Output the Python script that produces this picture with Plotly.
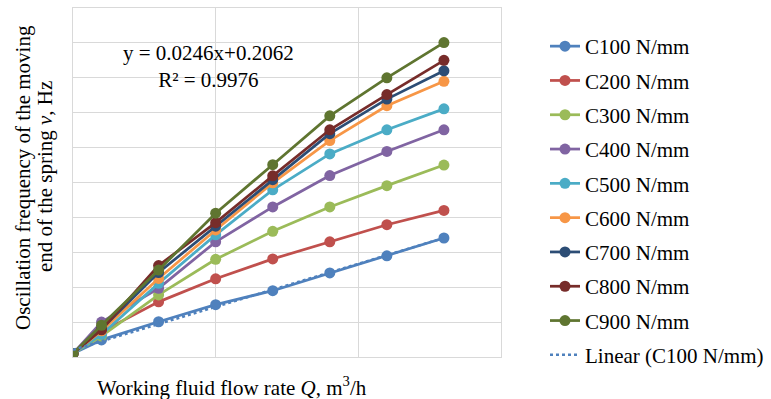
import numpy as np
import plotly.graph_objects as go

# Data (axis units arbitrary, no tick labels shown)
flow_rate = [0, 1, 3, 5, 7, 9, 11, 13]
series_names = ["C100 N/mm", "C200 N/mm", "C300 N/mm", "C400 N/mm", "C500 N/mm",
                "C600 N/mm", "C700 N/mm", "C800 N/mm", "C900 N/mm"]
c100 = [0.1, 0.49, 1.01, 1.50, 1.90, 2.41, 2.90, 3.41]
c200 = [0.1, 0.72, 1.58, 2.24, 2.81, 3.30, 3.79, 4.20]
c300 = [0.1, 0.60, 1.78, 2.80, 3.60, 4.30, 4.91, 5.50]
c400 = [0.1, 1.00, 1.97, 3.30, 4.30, 5.20, 5.89, 6.51]
c500 = [0.1, 0.65, 2.11, 3.50, 4.79, 5.82, 6.51, 7.11]
c600 = [0.1, 0.75, 2.25, 3.64, 4.99, 6.20, 7.20, 7.90]
c700 = [0.1, 0.80, 2.42, 3.75, 5.08, 6.40, 7.39, 8.20]
c800 = [0.1, 0.78, 2.62, 3.85, 5.19, 6.51, 7.52, 8.50]
c900 = [0.1, 0.91, 2.49, 4.12, 5.51, 6.91, 8.00, 9.01]
series_values = [c100, c200, c300, c400, c500, c600, c700, c800, c900]
colors = ["#4F81BD", "#C0504D", "#9BBB59", "#8064A2", "#4BACC6",
          "#F79646", "#2C4D75", "#772C2A", "#5F7530"]

fig = go.Figure()
for i, (name, vals, col) in enumerate(zip(series_names, series_values, colors)):
    fig.add_trace(go.Scatter(
        x=flow_rate, y=vals, name=name, mode="lines+markers",
        line=dict(color=col, width=2.75),
        marker=dict(color=col, size=11),
        legendgroup=f"g{i}",
    ))

# Linear trendline of C100
slope, intercept = np.polyfit(flow_rate, c100, 1)
tx = np.array([flow_rate[0], flow_rate[-1]])
fig.add_trace(go.Scatter(
    x=tx, y=slope * tx + intercept, name="Linear (C100 N/mm)", mode="lines",
    line=dict(color="#4F81BD", width=2.5, dash="dot"), legendgroup="gt",
))

font_family = "Liberation Serif"
FS = 21
L, R, T, B = 73, 501, 8, 357
pw, ph = R - L, B - T


def px(xp):
    return (xp - L) / pw


def py(yp):
    return (B - yp) / ph


fig.update_layout(
    width=771, height=399,
    margin=dict(l=L, r=771 - R, t=T, b=399 - B),
    paper_bgcolor="white", plot_bgcolor="white",
    font=dict(family=font_family, size=FS, color="black"),
    showlegend=True,
    legend=dict(
        xref="container", yref="container",
        x=545 / 771, y=1 - 26 / 399, xanchor="left", yanchor="top",
        traceorder="grouped", tracegroupgap=4, maxheight=399,
        font=dict(family=font_family, size=FS, color="black"),
        bgcolor="rgba(0,0,0,0)",
    ),
    xaxis=dict(range=[0, 15], dtick=5, showticklabels=False, showgrid=True,
               gridcolor="#D9D9D9", gridwidth=1, zeroline=False,
               showline=True, linecolor="#D9D9D9", mirror=True, ticks=""),
    yaxis=dict(range=[0, 10], dtick=1, showticklabels=False, showgrid=True,
               gridcolor="#D9D9D9", gridwidth=1, zeroline=False,
               showline=True, linecolor="#D9D9D9", mirror=True, ticks=""),
    annotations=[
        dict(text="y = 0.0246x+0.2062<br>R² = 0.9976", xref="paper", yref="paper",
             x=px(208), y=py(66), showarrow=False, xanchor="center", yanchor="middle",
             font=dict(family=font_family, size=FS), align="center"),
        dict(text="Working fluid flow rate <i>Q</i>, m<sup>3</sup>/h",
             xref="paper", yref="paper", x=px(232), y=py(386),
             showarrow=False, font=dict(family=font_family, size=FS),
             xanchor="center", yanchor="middle"),
        dict(text="Oscillation frequency of the moving",
             xref="paper", yref="paper", x=px(23), y=py(178),
             showarrow=False, textangle=-90, font=dict(family=font_family, size=FS),
             xanchor="center", yanchor="middle"),
        dict(text="end of the spring <i>ν</i>, Hz",
             xref="paper", yref="paper", x=px(45), y=py(177),
             showarrow=False, textangle=-90, font=dict(family=font_family, size=FS),
             xanchor="center", yanchor="middle"),
    ],
)

fig.write_html("out.html", config={"displayModeBar": False},
               post_script="document.body.style.margin='0';document.body.style.overflow='hidden';")
